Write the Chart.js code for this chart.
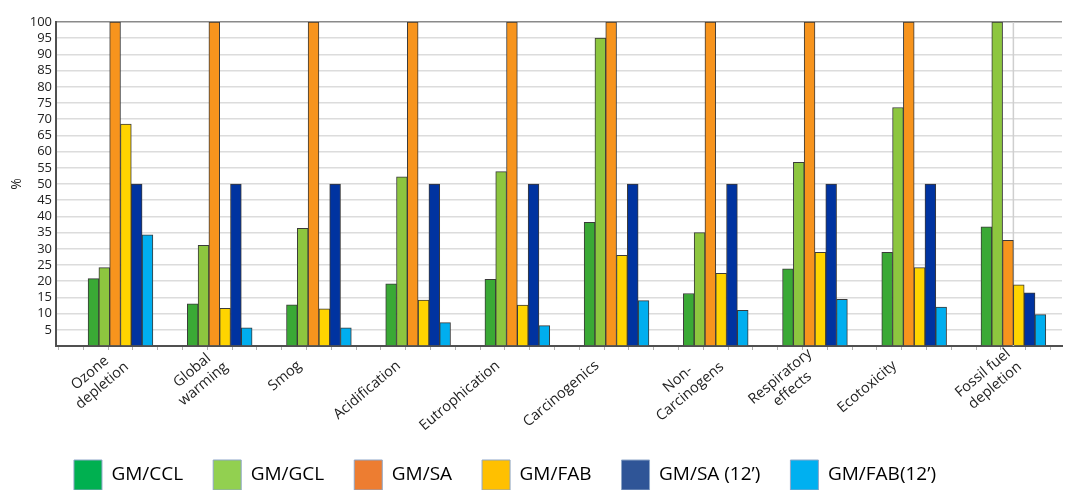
<!DOCTYPE html>
<html>
<head>
<meta charset="utf-8">
<script src="https://cdn.jsdelivr.net/npm/chart.js@4.4.1/dist/chart.umd.min.js"></script>
<style>
html,body{margin:0;padding:0;background:#fff;overflow:hidden;width:1068px;height:490px;}
#wrap{width:1068px;height:490px;position:relative;overflow:hidden;}
canvas{display:block;}
</style>
</head>
<body>
<div id="wrap"><canvas id="c" width="1068" height="500"></canvas></div>
<script>
const categories = [
  ["Ozone","depletion"], ["Global","warming"], "Smog", "Acidification", "Eutrophication",
  "Carcinogenics", ["Non-","Carcinogens"], ["Respiratory","effects"], "Ecotoxicity", ["Fossil fuel","depletion"]
];
const seriesNames = ["GM/CCL", "GM/GCL", "GM/SA", "GM/FAB", "GM/SA (12\u2019)", "GM/FAB(12\u2019)"];
const gmCCL   = [20.8, 13.0, 12.7, 19.2, 20.6, 38.2, 16.2, 23.8, 28.9, 36.8];
const gmGCL   = [24.2, 31.1, 36.3, 52.2, 53.8, 95.0, 35.0, 56.7, 73.6, 100];
const gmSA    = [100, 100, 100, 100, 100, 100, 100, 100, 100, 32.6];
const gmFAB   = [68.5, 11.6, 11.5, 14.2, 12.6, 28.0, 22.4, 28.9, 24.2, 18.9];
const gmSA12  = [50, 50, 50, 50, 50, 50, 50, 50, 50, 16.4];
const gmFAB12 = [34.3, 5.6, 5.6, 7.2, 6.3, 14.0, 11.0, 14.4, 12.0, 9.7];
const yTicks = [5,10,15,20,25,30,35,40,45,50,55,60,65,70,75,80,85,90,95,100];
const markedCategory = 9; // the category with a vertical guide line in the original

const barColors = ["#3aa935", "#8dc63f", "#f7941d", "#ffd400", "#0033a0", "#00aeef"];
const legendColors = ["#00b050", "#92d050", "#ed7d31", "#ffc000", "#2f5597", "#00b0f0"];
const allSeries = [gmCCL, gmGCL, gmSA, gmFAB, gmSA12, gmFAB12];

const datasets = allSeries.map((arr, k) => ({
  label: seriesNames[k],
  data: arr.map((v, i) => ({x: i, y: v})),
  backgroundColor: barColors[k],
  borderColor: "#3a3a3a",
  borderWidth: 1,
  barThickness: 10.8
}));

const FONT = "'Open Sans', 'Liberation Sans', sans-serif";
const LABEL_SIZE = 14.5;

const mctx = document.createElement('canvas').getContext('2d');
mctx.font = LABEL_SIZE + "px 'Open Sans'";
const spaceW = mctx.measureText(' ').width;
function formatLabel(lab) {
  if (Array.isArray(lab)) {
    const widths = lab.map(s => mctx.measureText(s).width);
    const maxW = Math.max(...widths);
    return lab.map((s, i) => s + ' '.repeat(Math.max(0, Math.round((maxW - widths[i]) / 2 / spaceW))));
  }
  return lab + ' '.repeat(Math.round(20 / spaceW));
}

const legendShift = {
  id: 'legendShift',
  afterLayout(chart) {
    const lg = chart.legend;
    if (lg) { lg.left -= 26; lg.right -= 26; }
  }
};

const guideLine = {
  id: 'guideLine',
  beforeDatasetsDraw(chart) {
    const xs = chart.scales.x, area = chart.chartArea, ctx = chart.ctx;
    const px = xs.getPixelForValue(markedCategory);
    ctx.save();
    ctx.strokeStyle = '#cfcfcf';
    ctx.lineWidth = 1.5;
    ctx.beginPath();
    ctx.moveTo(px, area.top);
    ctx.lineTo(px, area.bottom);
    ctx.stroke();
    ctx.restore();
  }
};

new Chart(document.getElementById('c'), {
  type: 'bar',
  data: { datasets },
  plugins: [legendShift, guideLine],
  options: {
    responsive: false,
    animation: false,
    layout: { padding: { top: 22, right: 6, left: 0, bottom: 0 } },
    plugins: {
      tooltip: { enabled: false },
      legend: {
        position: 'bottom',
        labels: {
          font: { family: FONT, size: 19 },
          color: '#1a1a1a',
          boxWidth: 28,
          boxHeight: 30,
          padding: 30,
          generateLabels: (chart) => seriesNames.map((n, k) => ({
            text: n, fillStyle: legendColors[k], strokeStyle: '#8ea6c8', lineWidth: 1, datasetIndex: k, hidden: false
          }))
        }
      }
    },
    scales: {
      x: {
        type: 'linear',
        min: -0.65,
        max: 9.49,
        offset: false,
        afterBuildTicks: (scale) => {
          const t = [];
          for (let v = -0.5; v <= 9.3; v += 0.25) t.push({ value: Math.round(v * 100) / 100 });
          scale.ticks = t;
        },
        afterFit: (scale) => { scale.height = 84; },
        grid: {
          drawOnChartArea: false,
          tickColor: '#b0b0b0',
          tickLength: 4
        },
        border: { color: '#505050', width: 2 },
        ticks: {
          autoSkip: false,
          minRotation: 40,
          maxRotation: 40,
          labelOffset: -5,
          padding: -5,
          font: { family: FONT, size: LABEL_SIZE },
          color: '#222',
          callback: (v) => {
            const r = Math.round(v);
            return (Math.abs(v - r) < 1e-6 && r >= 0 && r < categories.length) ? formatLabel(categories[r]) : '';
          }
        }
      },
      y: {
        min: 0,
        max: 100,
        afterBuildTicks: (scale) => { scale.ticks = [{value: 0}].concat(yTicks.map(v => ({value: v}))); },
        afterFit: (scale) => { scale.width = 56; },
        title: { display: true, text: '%', font: { family: FONT, size: 14 }, color: '#222', padding: { top: 9, bottom: 0 } },
        grid: {
          color: (ctx) => (ctx.tick && ctx.tick.value === 100) ? '#8a8a8a' : '#dcdcdc',
          lineWidth: 1.5,
          drawTicks: false
        },
        border: { color: '#505050', width: 2 },
        ticks: {
          autoSkip: false,
          padding: 4,
          font: { family: FONT, size: 13 },
          color: '#222',
          callback: (v) => v === 0 ? '' : String(v)
        }
      }
    }
  }
});
</script>
</body>
</html>
